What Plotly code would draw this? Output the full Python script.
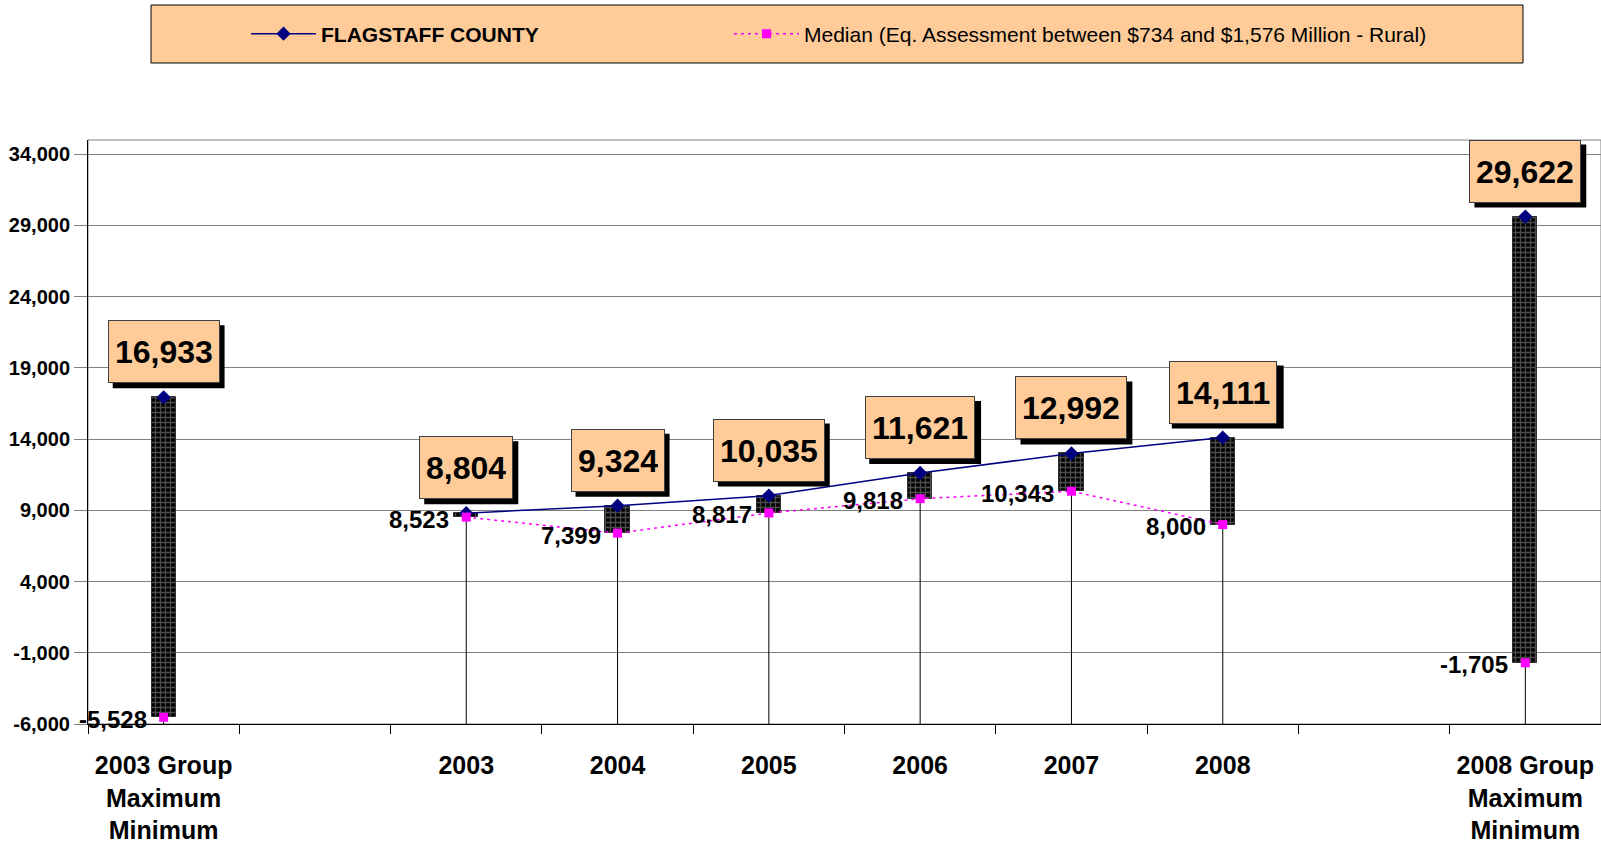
import plotly.graph_objects as go

# ---------------- data ----------------
categories = ["2003 Group<br>Maximum<br>Minimum", "", "2003", "2004", "2005", "2006",
              "2007", "2008", "", "2008 Group<br>Maximum<br>Minimum"]
flagstaff = [16933, None, 8804, 9324, 10035, 11621, 12992, 14111, None, 29622]
median = [-5528, None, 8523, 7399, 8817, 9818, 10343, 8000, None, -1705]
y_tickvals = [-6000, -1000, 4000, 9000, 14000, 19000, 24000, 29000, 34000]
y_min, y_max = -6000, 35000
flag_name = "FLAGSTAFF COUNTY"
median_name = "Median (Eq. Assessment between $734 and $1,576 Million - Rural)"

x = list(range(len(categories)))
lo = [None if a is None else min(a, b) for a, b in zip(flagstaff, median)]
hi = [None if a is None else max(a, b) for a, b in zip(flagstaff, median)]
span = [None if a is None else h - l for a, h, l in zip(flagstaff, hi, lo)]

FONT = "Arial, Liberation Sans, sans-serif"
W, H = 1601, 845
ML, MR, MT, MB = 88, 0, 140, 121
PW, PH = W - ML - MR, H - MT - MB

LABEL_SIZE = 32
PAD, BW = 6, 1
BOX_INNER_H = 49
LIFT = 14          # gap between point and box bottom (px)
SHADOW = 5         # shadow offset (px)

def px_x(p):
    return (p - ML) / PW

def px_y(p):
    return (H - MB - p) / PH

def text_width(s, size):
    # Arial / Liberation Sans advance widths (em) for digits and comma
    em = sum(0.278 if ch == "," else 0.556 for ch in s)
    return em * size

fig = go.Figure()

# drop lines (from lowest point down to the axis)
fig.add_trace(go.Scatter(
    x=x, y=lo, mode="markers", marker=dict(size=2, opacity=0),
    error_y=dict(type="data", symmetric=False,
                 array=[0 if v is not None else None for v in lo],
                 arrayminus=[None if v is None else v - y_min for v in lo],
                 color="black", thickness=1, width=0),
    showlegend=False, hoverinfo="skip"))

# up/down bars
fig.add_trace(go.Bar(
    x=x, y=span, base=lo, width=0.16,
    marker=dict(color="black", line=dict(color="#303030", width=1),
                pattern=dict(shape="+", fgcolor="#9a9a9a", bgcolor="black",
                             size=5, solidity=0.45)),
    showlegend=False, hoverinfo="skip"))

fig.add_trace(go.Scatter(
    x=x, y=flagstaff, mode="lines+markers", name="<b>" + flag_name + "</b>",
    line=dict(color="#000080", width=1.5),
    marker=dict(symbol="diamond", size=11, color="#000080"),
    connectgaps=False, legend="legend"))

fig.add_trace(go.Scatter(
    x=x, y=median, mode="lines+markers", name=median_name,
    line=dict(color="#FF00FF", width=1.5, dash="3px,4px"),
    marker=dict(symbol="square", size=9, color="#FF00FF"),
    connectgaps=False, legend="legend2"))

annotations = []
shapes = [
    # legend box
    dict(type="rect", xref="paper", yref="paper",
         x0=px_x(151), x1=px_x(1523), y0=px_y(63), y1=px_y(5),
         fillcolor="#FFCC99", line=dict(color="black", width=1), layer="below"),
    # plot area border
    dict(type="rect", xref="paper", yref="paper", x0=0, x1=1, y0=0, y1=1,
         line=dict(color="#808080", width=1), fillcolor="rgba(0,0,0,0)", layer="below"),
]

for xi, v in zip(x, flagstaff):
    if v is None:
        continue
    txt = f"{v:,}"
    box_w = text_width(txt, LABEL_SIZE) + 2 * (PAD + BW)
    box_h = BOX_INNER_H + 2 * (PAD + BW)
    # drop shadow behind the value box
    shapes.append(dict(
        type="rect", xref="x", yref="y", xsizemode="pixel", ysizemode="pixel",
        xanchor=xi, yanchor=v,
        x0=-box_w / 2 + SHADOW, x1=box_w / 2 + SHADOW,
        y0=LIFT - SHADOW, y1=LIFT - SHADOW + box_h,
        fillcolor="black", line=dict(width=0), layer="above"))
    annotations.append(dict(
        x=xi, y=v, xref="x", yref="y", text=f"<b>{txt}</b>", showarrow=False,
        xanchor="center", yanchor="bottom", yshift=LIFT,
        height=BOX_INNER_H, borderpad=PAD, borderwidth=BW,
        bgcolor="#FFCC99", bordercolor="#404040",
        font=dict(family=FONT, size=LABEL_SIZE, color="black")))

for xi, v in zip(x, median):
    if v is None:
        continue
    annotations.append(dict(
        x=xi, y=v, xref="x", yref="y", text=f"<b>{v:,}</b>", showarrow=False,
        xanchor="right", yanchor="middle", xshift=-15, yshift=-2,
        font=dict(family=FONT, size=24, color="black")))

legend_common = dict(orientation="h", xanchor="left", yanchor="middle",
                     bgcolor="rgba(0,0,0,0)", borderwidth=0, itemwidth=65,
                     font=dict(family=FONT, size=21, color="black"))

fig.update_layout(
    width=W, height=H,
    margin=dict(l=ML, r=MR, t=MT, b=MB),
    paper_bgcolor="white", plot_bgcolor="white",
    font=dict(family=FONT, color="black"),
    showlegend=True,
    legend=dict(x=px_x(246), y=px_y(34), **legend_common),
    legend2=dict(x=px_x(729), y=px_y(34), **legend_common),
    bargap=0,
    annotations=annotations,
    shapes=shapes,
    xaxis=dict(
        range=[-0.5, len(categories) - 0.5], tickmode="array", tickvals=x,
        ticktext=["<b>" + c + "</b>" if c else "" for c in categories],
        ticks="", showgrid=False, zeroline=False,
        showline=True, linecolor="black", linewidth=1,
        tickfont=dict(family=FONT, size=25, color="black"),
        ticklabelstandoff=19,
        minor=dict(ticks="outside", tick0=-0.5, dtick=1, ticklen=9,
                   tickcolor="black", showgrid=False),
        fixedrange=True),
    yaxis=dict(
        range=[y_min, y_max], tickmode="array", tickvals=y_tickvals,
        ticktext=["<b>" + f"{v:,}" + "</b>" for v in y_tickvals],
        showgrid=True, gridcolor="#808080", gridwidth=1, zeroline=False,
        showline=True, linecolor="black", linewidth=1,
        ticks="outside", ticklen=13, tickcolor="#808080",
        tickfont=dict(family=FONT, size=20, color="black"),
        fixedrange=True),
)

fig.write_html("out.html", config={"displayModeBar": False},
               post_script="document.body.style.margin='0';")
